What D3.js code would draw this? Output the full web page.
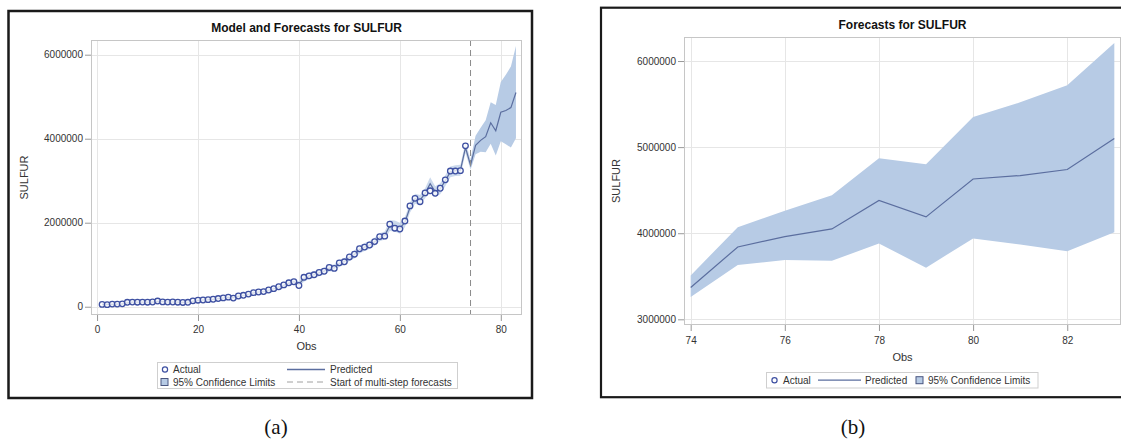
<!DOCTYPE html>
<html>
<head>
<meta charset="utf-8">
<script src="https://cdn.jsdelivr.net/npm/d3@7"></script>
<style>
  body { margin: 0; background: #fff; }
  svg { display: block; }
  text { font-family: "Liberation Sans", Arial, sans-serif; }
</style>
</head>
<body>
<svg id="fig" width="1121" height="440"></svg>
<script>
// Observation numbers 1..83 (1..73 observed, 74..83 forecast horizon)
const obs = d3.range(1, 84);
const forecastStart = 74;

// Observed SULFUR series, obs 1..73
const actual = [
  55000, 50000, 62000, 62000, 68000, 105000, 110000, 108000, 110000, 108000,
  112000, 135000, 115000, 110000, 112000, 108000, 102000, 105000, 140000, 155000,
  160000, 168000, 178000, 195000, 210000, 228000, 205000, 255000, 272000, 300000,
  335000, 350000, 360000, 398000, 430000, 475000, 520000, 570000, 595000, 505000,
  700000, 735000, 760000, 815000, 845000, 935000, 912000, 1045000, 1070000, 1185000,
  1250000, 1380000, 1420000, 1470000, 1550000, 1670000, 1680000, 1965000, 1870000, 1850000,
  2040000, 2400000, 2580000, 2500000, 2710000, 2760000, 2700000, 2820000, 3020000, 3230000,
  3230000, 3240000, 3830000
];

// Model predictions, obs 1..83
const predicted = [
  58000, 55000, 58000, 62000, 66000, 90000, 108000, 110000, 110000, 110000,
  111000, 126000, 120000, 113000, 112000, 110000, 105000, 106000, 130000, 150000,
  160000, 167000, 177000, 192000, 208000, 224000, 215000, 245000, 268000, 296000,
  328000, 350000, 362000, 392000, 428000, 470000, 512000, 562000, 598000, 540000,
  672000, 735000, 765000, 808000, 848000, 920000, 925000, 1030000, 1075000, 1170000,
  1245000, 1360000, 1420000, 1470000, 1545000, 1655000, 1695000, 1930000, 1920000, 1870000,
  2010000, 2360000, 2570000, 2540000, 2700000, 2930000, 2740000, 2810000, 3000000, 3210000,
  3240000, 3250000, 3790000,
  3370000, 3840000, 3960000, 4050000, 4380000, 4190000, 4630000, 4670000, 4740000, 5100000
];

// 95% confidence limits, obs 1..83
const lower = [
  23000, 20000, 23000, 27000, 31000, 40000, 58000, 60000, 60000, 60000,
  61000, 76000, 70000, 63000, 62000, 60000, 55000, 56000, 75000, 95000,
  105000, 112000, 122000, 137000, 153000, 169000, 160000, 190000, 213000, 241000,
  263000, 285000, 297000, 327000, 363000, 405000, 447000, 497000, 533000, 475000,
  592000, 655000, 685000, 728000, 768000, 840000, 845000, 950000, 995000, 1090000,
  1150000, 1265000, 1325000, 1375000, 1450000, 1560000, 1600000, 1800000, 1790000, 1740000,
  1890000, 2240000, 2450000, 2420000, 2580000, 2780000, 2610000, 2680000, 2870000, 3080000,
  3110000, 3120000, 3660000,
  3260000, 3630000, 3690000, 3680000, 3880000, 3600000, 3940000, 3870000, 3790000, 4010000
];
const upper = [
  93000, 90000, 93000, 97000, 101000, 140000, 158000, 160000, 160000, 160000,
  161000, 176000, 170000, 163000, 162000, 160000, 155000, 156000, 185000, 205000,
  215000, 222000, 232000, 247000, 263000, 279000, 270000, 300000, 323000, 351000,
  393000, 415000, 427000, 457000, 493000, 535000, 577000, 627000, 663000, 605000,
  752000, 815000, 845000, 888000, 928000, 1000000, 1005000, 1110000, 1155000, 1250000,
  1340000, 1455000, 1515000, 1565000, 1640000, 1750000, 1790000, 2060000, 2050000, 2000000,
  2130000, 2480000, 2690000, 2660000, 2820000, 3080000, 2870000, 2940000, 3130000, 3340000,
  3370000, 3380000, 3920000,
  3510000, 4070000, 4260000, 4440000, 4870000, 4800000, 5350000, 5520000, 5720000, 6210000
];

// Tick values
const xTicksA = [0, 20, 40, 60, 80];
const yTicksA = [0, 2000000, 4000000, 6000000];
const xTicksB = [74, 76, 78, 80, 82];
const yTicksB = [3000000, 4000000, 5000000, 6000000];

const markerColor = "#3e50a2";
const lineColor = "#5b6e9f";
const bandColor = "#b7cbe5";
const gridColor = "#e6e6e6";
const borderColor = "#c6c6c6";
const textColor = "#333";

const rows = obs.map((o, i) => ({ obs: o, pred: predicted[i], lo: lower[i], hi: upper[i], act: i < actual.length ? actual[i] : null }));

const svg = d3.select("#fig");

function panel(cfg) {
  const { x, y, xTicks, yTicks, data, title, titleY, xLabelY, yLabelX, tickPad } = cfg;
  const g = svg.append("g");
  const [x0, x1] = x.range();
  const [y0, y1] = y.range();

  const clipId = "clip" + Math.round(x0);
  g.append("clipPath").attr("id", clipId)
    .append("rect").attr("x", x0).attr("y", y1).attr("width", x1 - x0).attr("height", y0 - y1);

  // gridlines
  g.append("g").selectAll("line").data(yTicks).join("line")
    .attr("x1", x0).attr("x2", x1)
    .attr("y1", d => Math.round(y(d)) + 0.5).attr("y2", d => Math.round(y(d)) + 0.5)
    .attr("stroke", gridColor);
  g.append("g").selectAll("line").data(xTicks).join("line")
    .attr("y1", y1).attr("y2", y0)
    .attr("x1", d => Math.round(x(d)) + 0.5).attr("x2", d => Math.round(x(d)) + 0.5)
    .attr("stroke", gridColor);

  const plot = g.append("g").attr("clip-path", `url(#${clipId})`);

  // confidence band: lighter over the fitted history, full tone over the forecast horizon
  const band = d3.area().x(d => x(d.obs)).y0(d => y(d.lo)).y1(d => y(d.hi));
  plot.append("path").datum(data.filter(d => d.obs <= forecastStart))
    .attr("fill", bandColor).attr("fill-opacity", 0.7)
    .attr("d", band);
  plot.append("path").datum(data.filter(d => d.obs >= forecastStart))
    .attr("fill", bandColor)
    .attr("d", band);

  // predicted line
  plot.append("path").datum(data)
    .attr("fill", "none").attr("stroke", lineColor).attr("stroke-width", 1.2)
    .attr("d", d3.line().x(d => x(d.obs)).y(d => y(d.pred)));

  // observed values
  plot.append("g").selectAll("circle").data(data.filter(d => d.act !== null)).join("circle")
    .attr("cx", d => x(d.obs)).attr("cy", d => y(d.act)).attr("r", 2.8)
    .attr("fill", "#fff").attr("fill-opacity", 0.75)
    .attr("stroke", markerColor).attr("stroke-width", 1.3);

  if (cfg.refLine) {
    g.append("line")
      .attr("x1", x(forecastStart)).attr("x2", x(forecastStart))
      .attr("y1", y1).attr("y2", y0)
      .attr("stroke", "#8c8c8c").attr("stroke-width", 1)
      .attr("stroke-dasharray", "6,4");
  }

  // plot border
  g.append("rect")
    .attr("x", x0 + 0.5).attr("y", y1 + 0.5)
    .attr("width", x1 - x0 - 1).attr("height", y0 - y1 - 1)
    .attr("fill", "none").attr("stroke", borderColor);

  // axes
  const yAxis = g.append("g").attr("transform", `translate(${x0},0)`)
    .call(d3.axisLeft(y).tickValues(yTicks).tickFormat(d3.format("d")).tickSize(6).tickPadding(2));
  const xAxis = g.append("g").attr("transform", `translate(0,${y0})`)
    .call(d3.axisBottom(x).tickValues(xTicks).tickFormat(d3.format("d")).tickSize(6).tickPadding(tickPad));
  [yAxis, xAxis].forEach(a => {
    a.select(".domain").remove();
    a.selectAll(".tick line").attr("stroke", "#999");
    a.selectAll(".tick text").attr("fill", textColor).style("font-size", "10px")
      .style("font-family", '"Liberation Sans", Arial, sans-serif');
  });

  // title and axis labels
  g.append("text").attr("x", (x0 + x1) / 2).attr("y", titleY)
    .attr("text-anchor", "middle").attr("font-weight", "bold").attr("font-size", 12).attr("fill", "#111")
    .text(title);
  g.append("text").attr("x", (x0 + x1) / 2).attr("y", xLabelY)
    .attr("text-anchor", "middle").attr("font-size", 11).attr("fill", textColor)
    .text("Obs");
  g.append("text")
    .attr("transform", `translate(${yLabelX},${(y0 + y1) / 2}) rotate(-90)`)
    .attr("text-anchor", "middle").attr("font-size", 11).attr("fill", textColor)
    .text("SULFUR");
  return g;
}

// legend helpers
function legendMarker(g, cx, cy) {
  g.append("circle").attr("cx", cx).attr("cy", cy).attr("r", 2.6)
    .attr("fill", "none").attr("stroke", markerColor).attr("stroke-width", 1.2);
}
function legendSwatch(g, cx, cy) {
  g.append("rect").attr("x", cx - 3.5).attr("y", cy - 3.5).attr("width", 7).attr("height", 7)
    .attr("fill", bandColor).attr("stroke", "#4a5680").attr("stroke-width", 1);
}
function legendLine(g, xa, xb, cy, dashed) {
  g.append("line").attr("x1", xa).attr("x2", xb).attr("y1", cy).attr("y2", cy)
    .attr("stroke", dashed ? "#a0a0a0" : lineColor).attr("stroke-width", dashed ? 1 : 1.3)
    .attr("stroke-dasharray", dashed ? "6,4" : null);
}
function legendText(g, tx, cy, s) {
  g.append("text").attr("x", tx).attr("y", cy + 3.5).attr("font-size", 10).attr("fill", textColor).text(s);
}

// ---- Panel (a): model fit and forecasts ----
svg.append("rect").attr("x", 8.5).attr("y", 11).attr("width", 523.5).attr("height", 387)
  .attr("fill", "none").attr("stroke", "#1a1a1a").attr("stroke-width", 2.5);

panel({
  x: d3.scaleLinear().domain([-1.2, 84.2]).range([91, 522]),
  y: d3.scaleLinear().domain([-197000, 6350000]).range([315, 40]),
  xTicks: xTicksA, yTicks: yTicksA, data: rows,
  title: "Model and Forecasts for SULFUR", titleY: 32,
  xLabelY: 350, yLabelX: 28, tickPad: 4.5, refLine: true
});

const legA = svg.append("g");
legA.append("rect").attr("x", 157.5).attr("y", 362.5).attr("width", 300).attr("height", 26)
  .attr("fill", "#fff").attr("stroke", "#cfcfcf");
legendMarker(legA, 165, 369.5);
legendText(legA, 173, 369.5, "Actual");
legendLine(legA, 287, 325, 369.5, false);
legendText(legA, 330, 369.5, "Predicted");
legendSwatch(legA, 164.5, 382);
legendText(legA, 173, 382, "95% Confidence Limits");
legendLine(legA, 287, 325, 382, true);
legendText(legA, 330, 382, "Start of multi-step forecasts");

// ---- Panel (b): forecast horizon ----
svg.append("rect").attr("x", 601).attr("y", 7.7).attr("width", 600).attr("height", 389.5)
  .attr("fill", "none").attr("stroke", "#1a1a1a").attr("stroke-width", 2.2);

panel({
  x: d3.scaleLinear().domain([73.858, 83.142]).range([684, 1121]),
  y: d3.scaleLinear().domain([2934000, 6279000]).range([325, 37]),
  xTicks: xTicksB, yTicks: yTicksB, data: rows.filter(d => d.obs >= forecastStart),
  title: "Forecasts for SULFUR", titleY: 28.5,
  xLabelY: 361, yLabelX: 620, tickPad: 5.5, refLine: false
});

const legB = svg.append("g");
legB.append("rect").attr("x", 766.5).attr("y", 372.5).attr("width", 271.5).attr("height", 15.5)
  .attr("fill", "#fff").attr("stroke", "#cfcfcf");
legendMarker(legB, 774.5, 380.2);
legendText(legB, 783, 380.2, "Actual");
legendLine(legB, 818, 861, 380.2, false);
legendText(legB, 865, 380.2, "Predicted");
legendSwatch(legB, 919.5, 380.2);
legendText(legB, 928, 380.2, "95% Confidence Limits");

// panel captions
[["(a)", 276], ["(b)", 853]].forEach(([s, cx]) => {
  svg.append("text").attr("x", cx).attr("y", 434).attr("text-anchor", "middle")
    .attr("font-size", 21).attr("fill", "#111")
    .style("font-family", '"Liberation Serif", "Times New Roman", serif')
    .text(s);
});
</script>
</body>
</html>
